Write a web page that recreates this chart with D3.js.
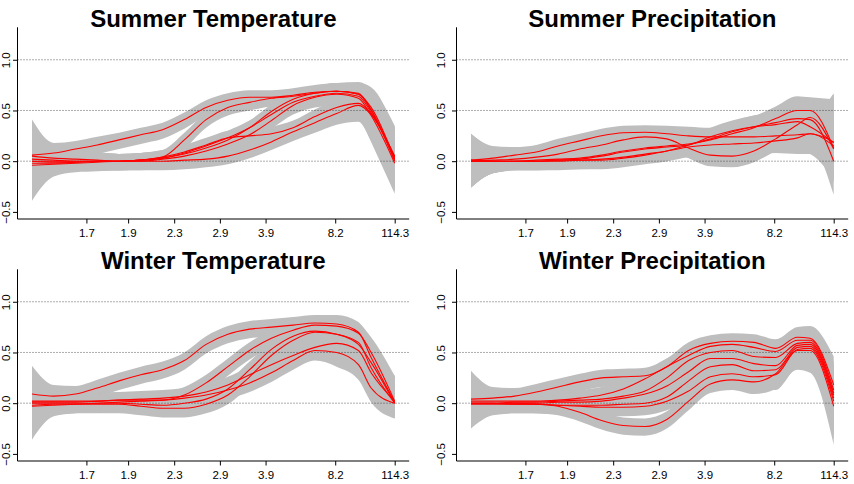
<!DOCTYPE html>
<html>
<head>
<meta charset="utf-8">
<script src="https://cdn.jsdelivr.net/npm/d3@7"></script>
<style>
  html, body { margin: 0; padding: 0; background: #fff; }
  svg text { font-family: "Liberation Sans", Arial, Helvetica, sans-serif; }
</style>
</head>
<body>
<div id="chart"></div>
<script>
// x positions of the fitted points (rank scale, 0..100)
const xGrid = [0, 6, 12, 18, 24, 30, 36, 42, 48, 54, 60, 66, 72, 78, 84, 90, 93.5, 100];

const tickPos = [15, 26.5, 39.2, 51.8, 64.4, 83.6, 100];
const tickLabels = ['1.7', '1.9', '2.3', '2.9', '3.9', '8.2', '114.3'];
const yTicks = [-0.5, 0, 0.5, 1];
const refLines = [0, 0.5, 1];

const titles = ['Summer Temperature', 'Summer Precipitation', 'Winter Temperature', 'Winter Precipitation'];

// Summer temperature
const summerTemp = [
  [0.06, 0.08, 0.12, 0.16, 0.21, 0.26, 0.31, 0.41, 0.53, 0.60, 0.63, 0.63, 0.65, 0.68, 0.69, 0.66, 0.53, 0.02],
  [0.02, 0.01, 0.00, 0.00, 0.00, 0.01, 0.04, 0.21, 0.41, 0.53, 0.58, 0.62, 0.64, 0.67, 0.69, 0.66, 0.50, 0.00],
  [0.00, 0.00, 0.00, 0.00, 0.00, 0.01, 0.03, 0.07, 0.13, 0.21, 0.33, 0.49, 0.61, 0.67, 0.69, 0.67, 0.51, 0.01],
  [0.00, -0.01, -0.01, 0.00, 0.00, 0.01, 0.03, 0.08, 0.15, 0.23, 0.33, 0.46, 0.58, 0.64, 0.67, 0.64, 0.48, 0.03],
  [-0.02, -0.02, -0.01, 0.00, 0.00, 0.01, 0.04, 0.09, 0.16, 0.23, 0.25, 0.27, 0.33, 0.44, 0.53, 0.57, 0.47, 0.04],
  [-0.04, -0.03, -0.02, -0.01, 0.00, 0.00, 0.00, 0.01, 0.02, 0.05, 0.11, 0.19, 0.29, 0.38, 0.47, 0.55, 0.46, 0.05],
  [0.05, 0.03, 0.02, 0.01, 0.00, 0.00, 0.02, 0.05, 0.10, 0.17, 0.26, 0.40, 0.55, 0.63, 0.66, 0.62, 0.45, -0.02]
];
const summerTempUp = [0.35, 0.10, 0.08, 0.08, 0.07, 0.07, 0.07, 0.07, 0.07, 0.07, 0.07, 0.07, 0.07, 0.07, 0.08, 0.11, 0.20, 0.30];
const summerTempLo = [0.35, 0.12, 0.09, 0.09, 0.09, 0.09, 0.09, 0.09, 0.08, 0.08, 0.08, 0.08, 0.09, 0.10, 0.11, 0.16, 0.26, 0.30];

// Summer precipitation
const summerPrec = [
  [0.01, 0.03, 0.06, 0.09, 0.15, 0.20, 0.25, 0.28, 0.285, 0.27, 0.25, 0.24, 0.24, 0.24, 0.25, 0.26, 0.27, 0.15],
  [0.00, 0.01, 0.02, 0.04, 0.07, 0.12, 0.16, 0.21, 0.24, 0.22, 0.13, 0.06, 0.05, 0.10, 0.22, 0.36, 0.43, 0.12],
  [0.00, 0.00, 0.00, 0.01, 0.02, 0.03, 0.06, 0.10, 0.13, 0.15, 0.17, 0.21, 0.27, 0.33, 0.42, 0.50, 0.50, 0.13],
  [0.00, 0.00, 0.00, 0.00, 0.01, 0.02, 0.05, 0.09, 0.12, 0.14, 0.16, 0.24, 0.30, 0.34, 0.36, 0.39, 0.34, 0.18],
  [0.00, 0.00, 0.00, 0.00, 0.01, 0.01, 0.02, 0.04, 0.07, 0.10, 0.14, 0.16, 0.17, 0.18, 0.20, 0.23, 0.27, 0.19],
  [0.01, 0.00, 0.00, 0.00, 0.00, 0.01, 0.01, 0.03, 0.06, 0.10, 0.16, 0.22, 0.29, 0.34, 0.38, 0.42, 0.41, 0.00]
];
const summerPrecUp = [0.26, 0.12, 0.08, 0.07, 0.07, 0.07, 0.07, 0.07, 0.07, 0.08, 0.09, 0.09, 0.10, 0.11, 0.12, 0.14, 0.13, 0.48];
const summerPrecLo = [0.26, 0.12, 0.09, 0.09, 0.09, 0.09, 0.09, 0.09, 0.09, 0.10, 0.10, 0.11, 0.11, 0.11, 0.12, 0.16, 0.20, 0.33];

// Winter temperature
const winterTemp = [
  [0.09, 0.07, 0.09, 0.15, 0.22, 0.28, 0.33, 0.42, 0.58, 0.68, 0.73, 0.75, 0.77, 0.79, 0.78, 0.70, 0.45, 0.01],
  [0.02, 0.02, 0.02, 0.02, 0.03, 0.03, 0.03, 0.08, 0.20, 0.36, 0.52, 0.64, 0.72, 0.77, 0.76, 0.69, 0.50, 0.02],
  [0.00, 0.00, 0.00, 0.00, 0.00, -0.01, -0.02, 0.00, 0.04, 0.14, 0.33, 0.53, 0.66, 0.71, 0.68, 0.58, 0.40, 0.00],
  [-0.02, -0.01, -0.01, -0.01, -0.01, -0.03, -0.05, -0.05, -0.01, 0.08, 0.26, 0.47, 0.62, 0.70, 0.68, 0.60, 0.35, 0.00],
  [0.01, 0.01, 0.01, 0.02, 0.03, 0.04, 0.05, 0.07, 0.11, 0.18, 0.28, 0.38, 0.47, 0.55, 0.59, 0.52, 0.30, 0.02],
  [-0.03, -0.02, -0.01, 0.00, 0.01, 0.02, 0.03, 0.05, 0.08, 0.13, 0.20, 0.30, 0.42, 0.52, 0.50, 0.38, 0.15, 0.00]
];
const winterTempUp = [0.28, 0.11, 0.08, 0.08, 0.08, 0.08, 0.08, 0.08, 0.08, 0.08, 0.08, 0.08, 0.08, 0.08, 0.09, 0.10, 0.15, 0.25];
const winterTempLo = [0.33, 0.11, 0.09, 0.09, 0.09, 0.09, 0.09, 0.09, 0.09, 0.09, 0.09, 0.09, 0.09, 0.10, 0.14, 0.15, 0.14, 0.15];

// Winter precipitation
const winterPrec = [
  [0.04, 0.05, 0.07, 0.11, 0.16, 0.21, 0.25, 0.26, 0.27, 0.36, 0.52, 0.59, 0.61, 0.60, 0.54, 0.65, 0.64, 0.18],
  [0.02, 0.02, 0.02, 0.02, 0.03, 0.05, 0.08, 0.14, 0.24, 0.36, 0.47, 0.56, 0.58, 0.55, 0.51, 0.62, 0.62, 0.13],
  [0.00, 0.00, 0.01, 0.01, 0.02, 0.03, 0.04, 0.07, 0.12, 0.25, 0.42, 0.50, 0.52, 0.46, 0.45, 0.59, 0.60, 0.10],
  [0.00, 0.00, 0.00, 0.00, 0.01, 0.01, 0.02, 0.05, 0.09, 0.17, 0.31, 0.44, 0.44, 0.39, 0.37, 0.57, 0.58, 0.08],
  [-0.01, -0.01, -0.01, -0.01, -0.02, -0.02, -0.02, -0.01, 0.00, 0.06, 0.22, 0.36, 0.38, 0.32, 0.33, 0.55, 0.56, 0.05],
  [0.00, 0.00, -0.01, -0.01, -0.02, -0.03, -0.04, -0.04, -0.03, 0.02, 0.12, 0.26, 0.29, 0.26, 0.28, 0.53, 0.54, 0.02],
  [0.00, 0.00, 0.00, -0.01, -0.03, -0.09, -0.17, -0.22, -0.23, -0.16, 0.02, 0.19, 0.23, 0.21, 0.29, 0.52, 0.52, -0.03]
];
const winterPrecUp = [0.28, 0.11, 0.08, 0.08, 0.08, 0.08, 0.08, 0.08, 0.08, 0.08, 0.08, 0.08, 0.08, 0.08, 0.09, 0.10, 0.12, 0.28];
const winterPrecLo = [0.24, 0.11, 0.09, 0.09, 0.09, 0.09, 0.09, 0.09, 0.09, 0.09, 0.09, 0.09, 0.10, 0.12, 0.15, 0.19, 0.22, 0.38];

const panels = [
  { title: titles[0], curves: summerTemp, up: summerTempUp, lo: summerTempLo },
  { title: titles[1], curves: summerPrec, up: summerPrecUp, lo: summerPrecLo },
  { title: titles[2], curves: winterTemp, up: winterTempUp, lo: winterTempLo },
  { title: titles[3], curves: winterPrec, up: winterPrecUp, lo: winterPrecLo }
];

const width = 854;
const height = 484;

const svg = d3.select('#chart')
  .append('svg')
  .attr('width', width)
  .attr('height', height);

svg.append('rect').attr('width', width).attr('height', height).attr('fill', '#fff');

// plot region of one panel (R style, 4% padding around the data range)
const xScale = d3.scaleLinear().domain([-4, 104]).range([17.5, 409.2]);
const yScale = d3.scaleLinear().domain([-0.57, 1.32]).range([219, 27.3]);

const area = (up, lo) => d3.area()
  .x((d, j) => xScale(xGrid[j]))
  .y0((d, j) => yScale(d - lo[j]))
  .y1((d, j) => yScale(d + up[j]))
  .curve(d3.curveMonotoneX);

const line = d3.line()
  .x((d, j) => xScale(xGrid[j]))
  .y(d => yScale(d))
  .curve(d3.curveMonotoneX);

panels.forEach((p, i) => {
  const col = i % 2;
  const g = svg.append('g')
    .attr('transform', `translate(${col * 439}, ${Math.floor(i / 2) * 242})`);

  // confidence bands
  g.append('g')
    .selectAll('path')
    .data(p.curves)
    .join('path')
    .attr('d', area(p.up, p.lo))
    .attr('fill', '#bebebe');

  // dotted reference lines
  g.append('g')
    .selectAll('line')
    .data(refLines)
    .join('line')
    .attr('x1', xScale.range()[0])
    .attr('x2', xScale.range()[1])
    .attr('y1', d => yScale(d))
    .attr('y2', d => yScale(d))
    .attr('stroke', '#333')
    .attr('stroke-width', 0.8)
    .attr('stroke-dasharray', '1,2');

  // fitted curves
  g.append('g')
    .selectAll('path')
    .data(p.curves)
    .join('path')
    .attr('d', line)
    .attr('fill', 'none')
    .attr('stroke', '#ff0000')
    .attr('stroke-width', 1.1);

  // x axis
  const xAxis = d3.axisBottom(xScale)
    .tickValues(tickPos)
    .tickFormat((d, k) => tickLabels[k])
    .tickSize(4.5)
    .tickSizeOuter(0);
  const gx = g.append('g')
    .attr('transform', `translate(0, ${yScale.range()[0]})`)
    .call(xAxis);
  gx.select('.domain').remove();
  gx.selectAll('text')
    .attr('y', 17.5)
    .attr('dy', null)
    .style('font-size', '11.5px')
    .attr('fill', '#000');

  // y axis (left column labels nudged so they stay inside the page)
  const labelShift = col === 0 ? -8 : -12;
  const yAxis = d3.axisLeft(yScale)
    .tickValues(yTicks)
    .tickFormat(d => d3.format('.1f')(d).replace('-', '\u2212'))
    .tickSize(4.5)
    .tickSizeOuter(0);
  const gy = g.append('g')
    .attr('transform', `translate(${xScale.range()[0]}, 0)`)
    .call(yAxis);
  gy.select('.domain').remove();
  gy.selectAll('.tick text')
    .attr('x', null)
    .attr('dy', null)
    .attr('text-anchor', 'middle')
    .attr('transform', `translate(${labelShift}, 0) rotate(-90)`)
    .style('font-size', '11.5px')
    .attr('fill', '#000');

  // L shaped box
  g.append('path')
    .attr('d', `M${xScale.range()[0]},${yScale.range()[1]}V${yScale.range()[0]}H${xScale.range()[1]}`)
    .attr('fill', 'none')
    .attr('stroke', '#000')
    .attr('stroke-width', 1);

  // title
  g.append('text')
    .attr('x', (xScale.range()[0] + xScale.range()[1]) / 2)
    .attr('y', 26.5)
    .attr('text-anchor', 'middle')
    .style('font-size', '24px')
    .style('font-weight', 'bold')
    .text(p.title);
});
</script>
</body>
</html>
